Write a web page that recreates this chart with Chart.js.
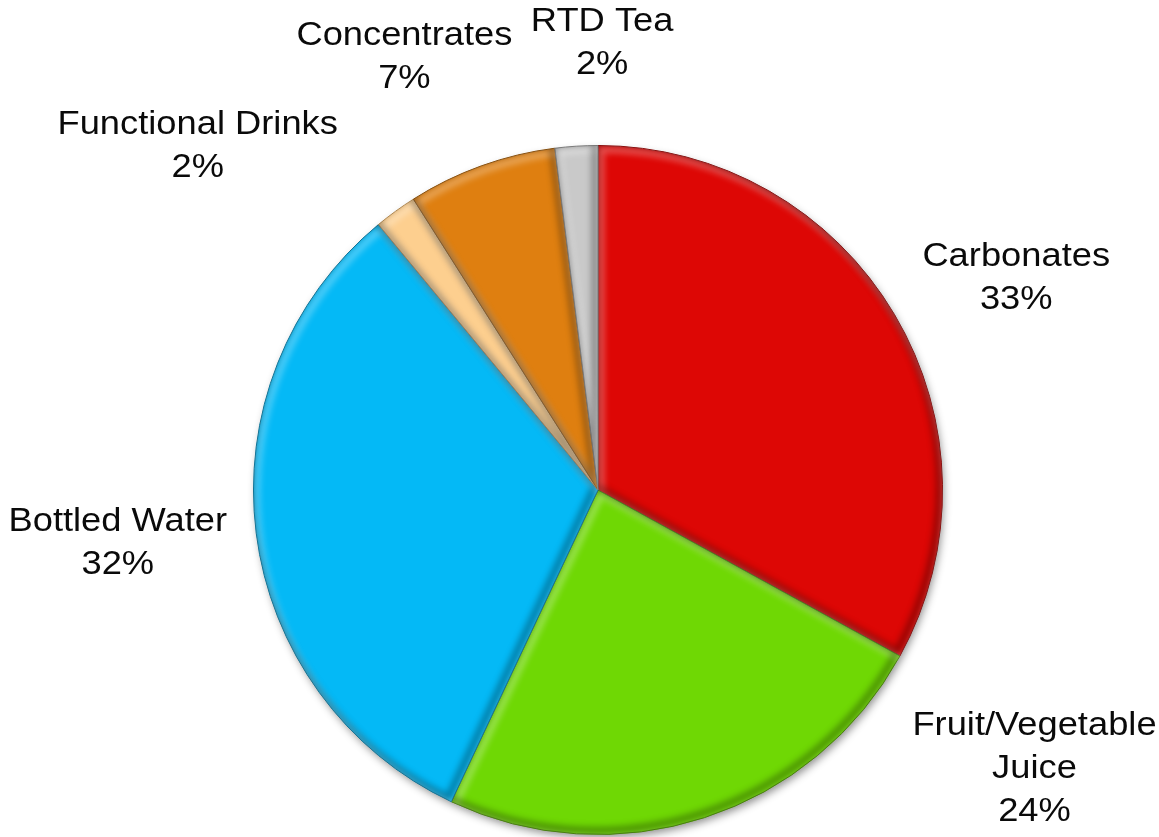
<!DOCTYPE html>
<html>
<head>
<meta charset="utf-8">
<title>Soft drinks market share</title>
<script src="https://cdn.jsdelivr.net/npm/chart.js@4.4.0/dist/chart.umd.min.js"></script>
<style>
    html, body { margin: 0; padding: 0; background: #fff; }
    #wrap { width: 1159px; height: 837px; position: relative; }
</style>
</head>
<body>
<div id="wrap"><canvas id="shareChart"></canvas></div>
<script>
// segment data (percent of volume)
const categories = ['Carbonates', 'Fruit/Vegetable Juice', 'Bottled Water', 'Functional Drinks', 'Concentrates', 'RTD Tea'];
const shares = [33, 24, 32, 2, 7, 2];
const sliceColors = ['#dd0705', '#6fd804', '#04b9f6', '#fdcf8f', '#df7f10', '#c9c9c9'];
const edgeColors = ['#8a0302', '#418000', '#03739a', '#b38a52', '#8a4e08', '#7d7d7d'];

// label text lines and where each block sits, relative to the pie centre in radius units
const labelLines = [
    ['Carbonates', '33%'],
    ['Fruit/Vegetable', 'Juice', '24%'],
    ['Bottled Water', '32%'],
    ['Functional Drinks', '2%'],
    ['Concentrates', '7%'],
    ['RTD Tea', '2%']
];
const labelAnchor = [
    [1.214, -0.678],
    [1.267, 0.684],
    [-1.394, 0.093],
    [-1.162, -1.061],
    [-0.562, -1.319],
    [0.012, -1.359]
];

function arcPath(a) {
    const p = new Path2D();
    p.moveTo(a.x, a.y);
    p.arc(a.x, a.y, a.outerRadius, a.startAngle, a.endAngle);
    p.closePath();
    return p;
}

// drop shadow under the whole pie
const pieShadow = {
    id: 'pieShadow',
    beforeDatasetsDraw(chart) {
        const arcs = chart.getDatasetMeta(0).data;
        if (!arcs.length) return;
        const a = arcs[0];
        const ctx = chart.ctx;
        ctx.save();
        ctx.shadowColor = 'rgba(0,0,0,0.45)';
        ctx.shadowBlur = 8;
        ctx.shadowOffsetX = 2;
        ctx.shadowOffsetY = 4;
        ctx.beginPath();
        ctx.arc(a.x, a.y, a.outerRadius - 1, 0, Math.PI * 2);
        ctx.fillStyle = '#888';
        ctx.fill();
        ctx.restore();
    }
};

// soft bevel inside every slice: light on the upper-left edges, dark on the lower-right
const sliceBevel = {
    id: 'sliceBevel',
    afterDatasetsDraw(chart) {
        const ctx = chart.ctx;
        chart.getDatasetMeta(0).data.forEach(a => {
            const p = arcPath(a);
            ctx.save();
            ctx.clip(p);
            ctx.filter = 'blur(3px)';
            ctx.lineWidth = 7;

            ctx.save();
            ctx.translate(3, 4);
            ctx.strokeStyle = 'rgba(255,255,255,0.3)';
            ctx.stroke(p);
            ctx.restore();

            ctx.save();
            ctx.translate(-3, -4);
            ctx.strokeStyle = 'rgba(0,0,0,0.32)';
            ctx.stroke(p);
            ctx.restore();

            ctx.restore();
        });
    }
};

// category name + percentage next to each slice
const sliceLabels = {
    id: 'sliceLabels',
    afterDraw(chart) {
        const arcs = chart.getDatasetMeta(0).data;
        if (!arcs.length) return;
        const c = arcs[0];
        const ctx = chart.ctx;
        const lineH = 43;
        ctx.save();
        ctx.fillStyle = '#0a0a0a';
        ctx.font = '33px "Liberation Sans", Arial, sans-serif';
        ctx.textAlign = 'center';
        ctx.textBaseline = 'middle';
        labelLines.forEach((lines, i) => {
            const cx = c.x + labelAnchor[i][0] * c.outerRadius;
            const cy = c.y + labelAnchor[i][1] * c.outerRadius;
            lines.forEach((txt, j) => {
                const t = j === lines.length - 1 ? shares[i] + '%' : txt;
                ctx.save();
                ctx.translate(cx, cy + j * lineH);
                ctx.scale(1.1, 1);
                ctx.fillText(t, 0, 0);
                ctx.restore();
            });
        });
        ctx.restore();
    }
};

new Chart(document.getElementById('shareChart'), {
    type: 'pie',
    data: {
        labels: categories,
        datasets: [{
            data: shares,
            backgroundColor: sliceColors,
            borderColor: edgeColors,
            borderWidth: 1
        }]
    },
    options: {
        responsive: true,
        maintainAspectRatio: false,
        animation: false,
        layout: { padding: { left: 253, right: 216, top: 145, bottom: 2 } },
        plugins: {
            legend: { display: false },
            tooltip: { enabled: false }
        }
    },
    plugins: [pieShadow, sliceBevel, sliceLabels]
});
</script>
</body>
</html>
